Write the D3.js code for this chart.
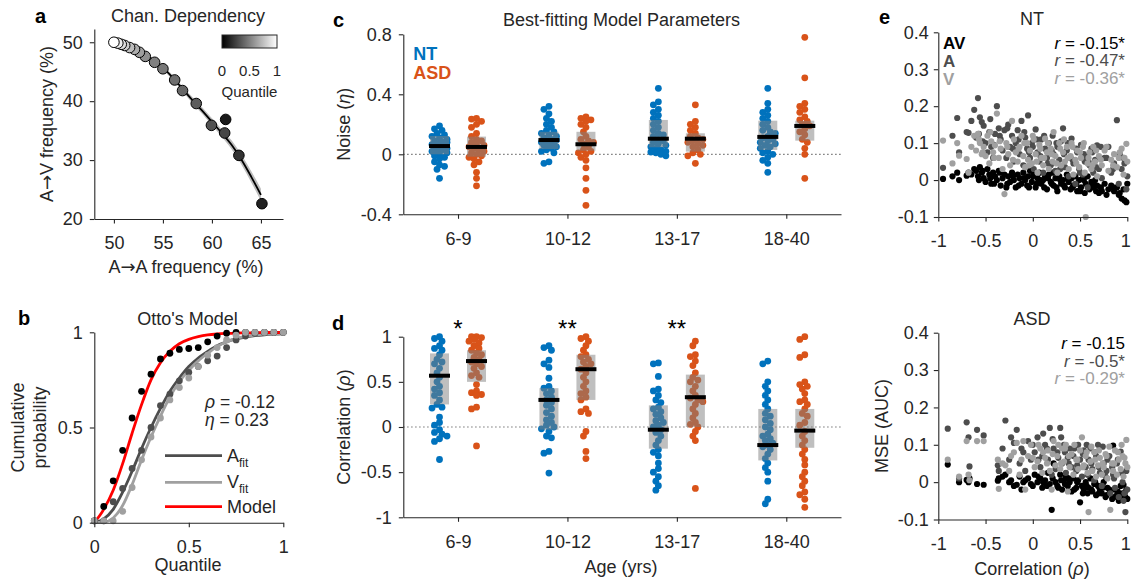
<!DOCTYPE html>
<html>
<head>
<meta charset="utf-8">
<script src="https://cdn.jsdelivr.net/npm/d3@7"></script>
<style>
  body { margin: 0; background: #fff; }
  svg { display: block; font-family: "Liberation Sans", Arial, Helvetica, sans-serif; }
</style>
</head>
<body>
<svg id="fig" width="1131" height="585"></svg>
<script>
// ---------- a: channel dependency ----------
const chanAA    = [50.0, 50.4, 50.75, 51.1, 51.6, 52.1, 52.6, 53.2, 54.15, 55.0, 56.2, 57.0, 58.4, 59.95, 61.4, 61.3, 62.75, 65.1];
const chanAV    = [50.0, 49.85, 49.65, 49.45, 49.1, 48.8, 48.3, 47.6, 46.6, 45.5, 43.6, 41.8, 39.6, 35.9, 36.9, 34.6, 30.8, 22.6];
const chanQuant = [1.0, 0.93, 0.87, 0.8, 0.74, 0.68, 0.62, 0.56, 0.5, 0.47, 0.43, 0.4, 0.36, 0.32, 0.1, 0.27, 0.2, 0.13];
const fitAA   = [50, 51, 52, 53, 54, 55, 56, 57, 58, 59, 60, 61, 62, 63, 64, 65];
const fitAV   = [50.0, 49.5, 48.9, 48.1, 47.0, 45.7, 44.0, 42.1, 40.2, 38.4, 36.5, 34.6, 32.6, 30.1, 27.2, 24.1];
const fitBand = [0.1, 0.15, 0.2, 0.25, 0.3, 0.35, 0.4, 0.45, 0.5, 0.55, 0.6, 0.65, 0.75, 0.85, 0.95, 1.05];

// ---------- b: Otto's model ----------
const quantiles = [0, 0.05, 0.1, 0.15, 0.2, 0.25, 0.3, 0.35, 0.4, 0.45, 0.5, 0.55, 0.6, 0.65, 0.7, 0.75, 0.8, 0.85, 0.9, 0.95, 1];
const cdfAV = [0.01, 0.085, 0.22, 0.38, 0.55, 0.69, 0.78, 0.86, 0.89, 0.91, 0.915, 0.92, 0.95, 0.98, 0.995, 1.0, 1.0, 1.0, 1.0, 1.0, 1.0];
const cdfA  = [0.01, 0.01, 0.11, 0.18, 0.285, 0.38, 0.5, 0.615, 0.675, 0.745, 0.79, 0.82, 0.85, 0.875, 0.92, 0.96, 0.98, 0.995, 1.0, 1.0, 1.0];
const cdfV  = [0.01, 0.01, 0.01, 0.06, 0.185, 0.33, 0.45, 0.55, 0.645, 0.71, 0.76, 0.82, 0.88, 0.92, 0.96, 0.985, 1.0, 1.0, 1.0, 1.0, 1.0];
const fitModel = [0, 0.07, 0.17, 0.31, 0.47, 0.62, 0.75, 0.84, 0.9, 0.94, 0.963, 0.977, 0.986, 0.991, 0.994, 0.996, 0.997, 0.998, 0.999, 0.999, 1.0];
const fitA     = [0, 0.02, 0.07, 0.16, 0.27, 0.39, 0.5, 0.6, 0.69, 0.76, 0.82, 0.865, 0.9, 0.93, 0.95, 0.965, 0.975, 0.982, 0.987, 0.99, 0.992];
const fitV     = [0, 0.003, 0.025, 0.09, 0.2, 0.33, 0.45, 0.56, 0.66, 0.74, 0.8, 0.85, 0.89, 0.925, 0.95, 0.967, 0.978, 0.985, 0.99, 0.993, 0.995];

// ---------- c / d: per-subject parameters by age group ----------
const ageGroups = ["6-9", "10-12", "13-17", "18-40"];
const noiseTicks = [-0.4, 0, 0.4, 0.8];
const corrTicks = [-1, -0.5, 0, 0.5, 1];
const noiseNT = [
  [0.19, 0.17, 0.16, 0.14, 0.13, 0.12, 0.11, 0.1, 0.09, 0.085, 0.08, 0.07, 0.065, 0.06, 0.05, 0.045, 0.04, 0.03, 0.025, 0.02, 0.01, 0.0, -0.01, -0.02, -0.03, -0.05, -0.07, -0.08, -0.1, -0.16],
  [0.32, 0.3, 0.27, 0.24, 0.22, 0.2, 0.18, 0.16, 0.15, 0.14, 0.13, 0.12, 0.11, 0.1, 0.095, 0.09, 0.08, 0.07, 0.065, 0.06, 0.05, 0.04, 0.03, 0.02, 0.01, -0.05, -0.06],
  [0.44, 0.35, 0.33, 0.3, 0.28, 0.26, 0.24, 0.22, 0.2, 0.18, 0.16, 0.14, 0.13, 0.12, 0.1, 0.09, 0.08, 0.07, 0.06, 0.05, 0.04, 0.03, 0.02, 0.015, 0.01, 0.0, -0.01],
  [0.44, 0.34, 0.3, 0.28, 0.26, 0.24, 0.22, 0.2, 0.18, 0.16, 0.15, 0.14, 0.12, 0.11, 0.1, 0.09, 0.08, 0.07, 0.06, 0.05, 0.04, 0.02, 0.01, 0.0, -0.02, -0.04, -0.06, -0.12]
];
const noiseASD = [
  [0.24, 0.235, 0.22, 0.2, 0.18, 0.14, 0.12, 0.1, 0.09, 0.08, 0.07, 0.06, 0.05, 0.04, 0.03, 0.02, 0.01, 0.0, -0.01, -0.02, -0.03, -0.05, -0.07, -0.12, -0.16, -0.21],
  [0.25, 0.24, 0.23, 0.22, 0.2, 0.18, 0.15, 0.12, 0.1, 0.09, 0.08, 0.07, 0.05, 0.03, 0.02, 0.01, 0.0, -0.02, -0.04, -0.09, -0.16, -0.24, -0.34],
  [0.33, 0.22, 0.2, 0.18, 0.16, 0.14, 0.12, 0.11, 0.1, 0.09, 0.08, 0.07, 0.06, 0.05, 0.03, 0.01, 0.0, -0.01, -0.06],
  [0.78, 0.51, 0.34, 0.32, 0.3, 0.28, 0.25, 0.23, 0.22, 0.2, 0.19, 0.17, 0.15, 0.13, 0.1, 0.08, 0.04, 0.0, -0.16]
];
const noiseMidNT  = [0.055, 0.095, 0.104, 0.116];
const noiseMidASD = [0.049, 0.067, 0.104, 0.189];
const noiseLoNT   = [0.0, 0.035, 0.047, 0.029];
const noiseHiNT   = [0.122, 0.15, 0.229, 0.224];
const noiseLoASD  = [-0.016, 0.024, 0.018, 0.091];
const noiseHiASD  = [0.118, 0.15, 0.14, 0.224];

const corrNT = [
  [1.0, 0.98, 0.95, 0.9, 0.87, 0.85, 0.8, 0.75, 0.72, 0.7, 0.65, 0.6, 0.55, 0.5, 0.45, 0.42, 0.38, 0.35, 0.3, 0.25, 0.22, 0.21, 0.11, 0.05, 0.02, -0.03, -0.06, -0.08, -0.1, -0.13, -0.16, -0.36],
  [0.9, 0.88, 0.85, 0.74, 0.7, 0.66, 0.54, 0.45, 0.43, 0.4, 0.37, 0.33, 0.3, 0.27, 0.24, 0.2, 0.16, 0.12, 0.08, 0.05, 0.02, 0.0, -0.02, -0.05, -0.1, -0.12, -0.27, -0.29, -0.51],
  [0.71, 0.7, 0.56, 0.42, 0.4, 0.35, 0.3, 0.27, 0.22, 0.2, 0.17, 0.14, 0.1, 0.07, 0.05, 0.02, 0.0, -0.03, -0.06, -0.1, -0.15, -0.2, -0.25, -0.28, -0.32, -0.4, -0.46, -0.5, -0.55, -0.6, -0.65, -0.7],
  [0.73, 0.7, 0.5, 0.45, 0.4, 0.35, 0.3, 0.25, 0.2, 0.15, 0.12, 0.08, 0.04, 0.0, -0.03, -0.08, -0.1, -0.13, -0.15, -0.18, -0.2, -0.22, -0.25, -0.3, -0.35, -0.4, -0.45, -0.5, -0.6, -0.8, -0.85]
];
const corrASD = [
  [1.0, 1.0, 0.99, 0.97, 0.95, 0.93, 0.9, 0.87, 0.85, 0.82, 0.8, 0.77, 0.75, 0.72, 0.7, 0.67, 0.65, 0.6, 0.57, 0.55, 0.47, 0.4, 0.38, 0.36, 0.35, 0.22, 0.2, -0.21],
  [1.0, 0.98, 0.95, 0.9, 0.85, 0.8, 0.78, 0.75, 0.72, 0.7, 0.67, 0.64, 0.6, 0.55, 0.5, 0.45, 0.4, 0.37, 0.33, 0.3, 0.2, 0.17, 0.15, -0.05, -0.1, -0.27, -0.35],
  [0.95, 0.9, 0.8, 0.78, 0.73, 0.68, 0.6, 0.55, 0.52, 0.5, 0.45, 0.4, 0.35, 0.32, 0.3, 0.28, 0.25, 0.2, 0.15, 0.1, 0.05, 0.03, 0.0, -0.05, -0.1, -0.15, -0.68],
  [1.0, 0.97, 0.8, 0.77, 0.5, 0.47, 0.45, 0.42, 0.37, 0.3, 0.28, 0.25, 0.2, 0.15, 0.12, 0.05, 0.02, -0.05, -0.1, -0.15, -0.2, -0.25, -0.3, -0.36, -0.42, -0.5, -0.55, -0.6, -0.65, -0.72, -0.75, -0.8, -0.89]
];
const corrMidNT  = [0.568, 0.3, -0.03, -0.2];
const corrMidASD = [0.73, 0.64, 0.33, -0.04];
const corrLoNT   = [0.25, -0.03, -0.24, -0.37];
const corrHiNT   = [0.815, 0.43, 0.24, 0.2];
const corrLoASD  = [0.5, 0.3, 0.0, -0.23];
const corrHiASD  = [0.85, 0.8, 0.58, 0.2];
const corrStars  = ["*", "**", "**", ""];

// ---------- e: model error vs correlation (one entry per subject) ----------
const ntRho = [-0.95, -0.85, -0.8, -0.78, -0.7, -0.68, -0.62, -0.6, -0.58, -0.56, -0.54, -0.52, -0.5, -0.48, -0.46, -0.44, -0.42, -0.4, -0.38, -0.36, -0.34, -0.32, -0.3, -0.28, -0.26, -0.24, -0.22, -0.2, -0.18, -0.16, -0.14, -0.12, -0.1, -0.08, -0.06, -0.05, -0.03, -0.01, 0.01, 0.03, 0.05, 0.07, 0.09, 0.11, 0.13, 0.15, 0.17, 0.19, 0.21, 0.22, 0.24, 0.26, 0.28, 0.3, 0.32, 0.34, 0.36, 0.38, 0.4, 0.41, 0.43, 0.45, 0.47, 0.49, 0.51, 0.53, 0.55, 0.56, 0.58, 0.6, 0.62, 0.64, 0.66, 0.68, 0.7, 0.73, 0.76, 0.8, 0.83, 0.86, 0.89, 0.91, 0.94, 0.96, 0.99, 1.0,
  -0.65, -0.57, -0.53, -0.45, -0.41, -0.35, -0.27, -0.21, -0.15, -0.09, -0.04, 0.0, 0.04, 0.08, 0.12, 0.16, 0.2, 0.25, 0.29, 0.33, 0.37, 0.42, 0.46, 0.5, 0.54, 0.59, 0.63, 0.67, 0.72, 0.78, 0.85, 0.92, 0.97];
const ntMseAV = [0.003, 0.01, 0.02, 0.0, 0.012, 0.02, 0.03, 0.025, 0.01, 0.035, 0.02, 0.005, -0.005, 0.03, 0.015, -0.01, 0.02, 0.01, 0.0, 0.025, -0.015, 0.005, 0.015, -0.02, 0.01, -0.005, 0.02, 0.0, -0.02, 0.015, 0.005, -0.01, 0.02, 0.0, -0.015, 0.01, 0.025, -0.005, 0.015, -0.02, 0.005, 0.02, -0.01, 0.0, 0.01, -0.025, 0.015, -0.005, 0.02, -0.015, 0.005, -0.03, 0.01, -0.01, 0.0, -0.02, 0.015, -0.005, -0.025, 0.005, -0.015, 0.01, -0.03, 0.0, -0.02, 0.005, -0.035, -0.01, 0.01, -0.025, -0.005, -0.02, 0.0, -0.015, -0.035, -0.03, -0.01, -0.025, -0.015, -0.03, -0.02, -0.04, -0.05, -0.025, -0.06, -0.01,
  0.015, 0.0, 0.025, 0.005, -0.01, 0.02, -0.01, 0.01, -0.015, 0.005, -0.02, 0.01, -0.01, 0.0, -0.02, 0.005, -0.01, -0.02, 0.0, -0.015, 0.005, -0.02, -0.01, -0.03, 0.0, -0.02, -0.01, -0.03, -0.02, -0.04, -0.02, -0.035, -0.055];
const ntMseA  = [0.033, 0.12, 0.168, 0.075, 0.13, 0.128, 0.19, 0.115, 0.222, 0.17, 0.157, 0.147, 0.1, 0.075, 0.13, 0.09, 0.06, 0.125, 0.2, 0.14, 0.11, 0.08, 0.135, 0.06, 0.15, 0.09, 0.12, 0.05, 0.1, 0.135, 0.07, 0.16, 0.04, 0.115, 0.085, 0.175, 0.06, 0.1, 0.03, 0.137, 0.075, 0.05, 0.11, 0.02, 0.085, 0.06, 0.1, 0.04, 0.12, 0.07, 0.025, 0.09, 0.055, 0.105, 0.14, 0.035, 0.08, 0.01, 0.06, 0.112, 0.045, -0.01, 0.075, 0.03, 0.095, 0.015, 0.05, 0.065, -0.02, 0.04, 0.085, 0.02, 0.055, 0.094, 0.03, 0.005, 0.06, 0.09, 0.02, 0.045, 0.162, -0.01, 0.03, 0.06, -0.025, 0.01,
  0.16, 0.125, 0.105, 0.165, 0.095, 0.12, 0.14, 0.085, 0.11, 0.13, 0.075, 0.09, 0.11, 0.065, 0.12, 0.045, 0.08, 0.1, 0.03, 0.07, 0.1, 0.055, 0.085, 0.02, 0.07, 0.05, 0.075, 0.035, 0.09, 0.06, 0.03, 0.07, 0.045];
const ntMseV  = [0.107, 0.045, 0.1, 0.066, 0.057, 0.02, 0.12, 0.08, 0.125, 0.1, 0.07, 0.09, 0.065, 0.12, 0.045, 0.105, 0.075, 0.094, 0.18, 0.06, 0.085, 0.03, -0.038, 0.1, 0.07, 0.04, 0.16, 0.11, 0.075, 0.05, 0.09, 0.12, 0.065, 0.035, 0.1, 0.055, 0.08, 0.045, 0.11, 0.07, 0.02, 0.095, 0.06, 0.04, 0.112, 0.075, 0.03, 0.085, 0.05, 0.13, 0.065, 0.02, 0.1, 0.04, 0.075, 0.05, 0.09, 0.03, 0.065, 0.1, 0.015, 0.055, 0.08, 0.035, 0.06, 0.09, 0.02, -0.1, 0.045, 0.075, 0.03, 0.09, 0.05, 0.01, 0.065, 0.04, 0.08, 0.025, 0.055, 0.07, 0.035, 0.06, 0.085, 0.015, 0.098, 0.05,
  0.09, 0.11, 0.075, 0.13, 0.06, 0.105, 0.09, 0.055, 0.085, 0.1, 0.04, 0.12, 0.05, 0.085, 0.06, 0.1, 0.07, 0.045, 0.085, 0.11, 0.06, 0.09, 0.045, 0.075, 0.1, 0.06, 0.04, 0.08, 0.055, 0.09, 0.04, 0.075, 0.06];

const asdRho = [-0.9, -0.78, -0.7, -0.68, -0.67, -0.59, -0.52, -0.37, -0.36, -0.29, -0.25, -0.2, -0.17, -0.14, -0.12, -0.08, -0.05, -0.02, 0.02, 0.05, 0.08, 0.1, 0.13, 0.16, 0.18, 0.2, 0.22, 0.24, 0.26, 0.29, 0.31, 0.33, 0.35, 0.37, 0.39, 0.41, 0.43, 0.46, 0.48, 0.5, 0.52, 0.54, 0.56, 0.58, 0.59, 0.61, 0.63, 0.65, 0.67, 0.69, 0.71, 0.73, 0.75, 0.77, 0.79, 0.82, 0.84, 0.85, 0.87, 0.89, 0.91, 0.93, 0.95, 0.96, 0.98, 0.99, 1.0,
  -0.32, -0.23, -0.1, 0.0, 0.06, 0.11, 0.15, 0.21, 0.27, 0.3, 0.34, 0.38, 0.44, 0.47, 0.53, 0.57, 0.62, 0.66, 0.7, 0.74, 0.78, 0.81, 0.86, 0.9, 0.94, 0.97];
const asdMseAV = [0.047, 0.0, 0.006, 0.0, 0.01, -0.005, -0.007, 0.004, 0.01, 0.02, 0.0, -0.01, -0.007, 0.015, -0.02, 0.005, 0.01, -0.005, 0.02, 0.0, 0.01, -0.015, 0.005, 0.025, -0.005, -0.074, 0.05, 0.0, -0.01, 0.02, -0.02, 0.005, 0.015, -0.01, 0.0, -0.025, 0.01, -0.015, 0.005, -0.054, -0.01, -0.02, 0.0, -0.03, -0.015, 0.01, -0.025, -0.005, -0.035, -0.01, -0.02, -0.03, 0.0, -0.04, -0.015, -0.025, -0.045, 0.098, -0.02, -0.035, -0.05, -0.01, -0.03, -0.007, -0.04, -0.02, -0.045,
  0.015, 0.005, 0.0, -0.01, 0.015, 0.0, -0.01, 0.01, -0.015, 0.005, -0.005, 0.01, -0.02, 0.0, -0.03, -0.01, -0.02, 0.0, -0.03, -0.015, -0.035, -0.02, -0.04, -0.025, -0.045, -0.03];
const asdMseA  = [0.143, 0.01, 0.16, 0.12, 0.042, 0.14, 0.125, 0.045, 0.03, 0.165, 0.06, 0.105, 0.14, 0.05, 0.09, 0.03, 0.11, 0.06, 0.08, 0.12, 0.04, 0.07, 0.1, 0.06, 0.145, 0.02, 0.09, 0.035, 0.08, 0.145, 0.05, 0.1, 0.025, 0.065, 0.09, 0.04, 0.07, 0.03, 0.1, 0.06, 0.015, 0.085, 0.04, 0.02, 0.06, 0.09, 0.035, 0.005, 0.07, 0.1, 0.025, -0.01, 0.05, 0.015, 0.06, -0.03, 0.04, 0.02, -0.015, 0.05, -0.04, 0.082, 0.0, -0.05, -0.08, 0.03, -0.02,
  0.09, 0.12, 0.08, 0.1, 0.06, 0.13, 0.09, 0.115, 0.065, 0.12, 0.08, 0.05, 0.09, 0.045, 0.075, 0.1, 0.05, 0.08, 0.04, 0.095, 0.03, 0.07, 0.01, 0.06, 0.025, -0.03];
const asdMseV  = [0.06, 0.015, 0.11, 0.02, 0.005, 0.11, 0.11, 0.06, -0.018, 0.045, 0.03, 0.08, 0.105, 0.02, 0.06, -0.02, 0.07, 0.1, 0.04, 0.055, 0.09, 0.025, 0.065, 0.085, 0.03, -0.02, 0.11, 0.045, 0.07, 0.035, 0.09, 0.055, 0.1, -0.025, 0.04, 0.075, 0.02, 0.06, 0.035, 0.085, 0.12, 0.045, 0.07, 0.025, -0.08, 0.055, 0.03, 0.08, 0.015, 0.045, 0.065, 0.02, 0.04, 0.075, 0.01, -0.074, 0.05, 0.03, 0.085, 0.02, 0.06, 0.035, 0.07, 0.015, 0.05, 0.113, 0.04,
  0.05, 0.07, 0.11, 0.065, 0.1, 0.08, 0.05, 0.075, 0.1, 0.05, 0.09, 0.07, 0.1, 0.06, 0.04, 0.08, 0.095, 0.06, 0.085, 0.05, 0.07, 0.095, 0.05, 0.08, 0.1, 0.065];
const ntStats  = ["-0.15*", "-0.47*", "-0.36*"];
const asdStats = ["-0.15", "-0.5*", "-0.29*"];

// ---------- shared styling ----------
const INK = "#262626";
const FS = 18;
const BLUE = "#0072BD", ORANGE = "#D95319";
const GREY_A = "#4d4d4d", GREY_V = "#a0a0a0";
const fmt = d => String(d);

const svg = d3.select("#fig");
svg.append("rect").attr("width", 1131).attr("height", 585).attr("fill", "#fff");

// text helper: segments are strings or [string, "italic"|"sub"|"arrow"]
function text(x, y, segs, o = {}) {
  const t = svg.append("text")
    .attr("x", x).attr("y", y)
    .attr("font-size", o.size || FS)
    .attr("font-weight", o.weight || "normal")
    .attr("fill", o.fill || INK)
    .attr("text-anchor", o.anchor || "middle");
  if (o.rotate) t.attr("transform", `rotate(-90,${x},${y})`);
  (Array.isArray(segs) ? segs : [segs]).forEach(s => {
    if (typeof s === "string") t.append("tspan").text(s);
    else if (s[1] === "italic") t.append("tspan").attr("font-style", "italic").text(s[0]);
    else if (s[1] === "sub") t.append("tspan").attr("font-size", 12).attr("dy", 5).text(s[0]);
    else if (s[1] === "arrow") t.append("tspan").attr("font-family", "DejaVu Sans").text(s[0]);
  });
  return t;
}

function axes(x, y, xTicks, yTicks, xFmt, yPad) {
  const gx = svg.append("g")
    .attr("transform", `translate(0,${y.range()[0]})`)
    .call(d3.axisBottom(x).tickValues(xTicks).tickFormat(xFmt || fmt)
      .tickSize(4.5).tickSizeOuter(0).tickPadding(13));
  const gy = svg.append("g")
    .attr("transform", `translate(${x.range()[0]},0)`)
    .call(d3.axisLeft(y).tickValues(yTicks).tickFormat(fmt)
      .tickSize(4.5).tickSizeOuter(0).tickPadding(yPad == null ? 7 : yPad));
  [gx, gy].forEach(g => {
    g.attr("font-family", null).attr("font-size", FS);
    g.select(".domain").attr("stroke", INK).attr("stroke-width", 1.1);
    g.selectAll(".tick line").attr("stroke", INK).attr("stroke-width", 1.1);
    g.selectAll(".tick text").attr("fill", INK);
  });
  return gx;
}

function panelLetter(x, y, s) {
  text(x, y, s, { size: 20, weight: "bold", anchor: "start", fill: "#000" });
}

// ================= a =================
{
  const x = d3.scaleLinear([48, 67.25], [94.3, 283]);
  const y = d3.scaleLinear([20, 52.25], [219, 29]);
  const fit = fitAA.map((v, i) => ({ x: v, y: fitAV[i], b: fitBand[i] }));
  svg.append("path").datum(fit)
    .attr("d", d3.area().x(d => x(d.x)).y0(d => y(d.y - d.b)).y1(d => y(d.y + d.b)).curve(d3.curveMonotoneX))
    .attr("fill", "#bdbdbd");
  svg.append("path").datum(fit)
    .attr("d", d3.line().x(d => x(d.x)).y(d => y(d.y)).curve(d3.curveMonotoneX))
    .attr("fill", "none").attr("stroke", "#000").attr("stroke-width", 1.8);
  const pts = chanAA.map((v, i) => ({ x: v, y: chanAV[i], q: chanQuant[i] }))
    .sort((a, b) => a.q - b.q);
  const grey = d3.scaleLinear([0, 1], ["#000000", "#ffffff"]);
  svg.append("g").selectAll("circle").data(pts).join("circle")
    .attr("cx", d => x(d.x)).attr("cy", d => y(d.y)).attr("r", 5.3)
    .attr("fill", d => grey(d.q)).attr("stroke", "#000").attr("stroke-width", 1);
  axes(x, y, [50, 55, 60, 65], [20, 30, 40, 50]);

  // quantile colour bar
  const grad = svg.append("defs").append("linearGradient").attr("id", "qgrad");
  grad.append("stop").attr("offset", "0%").attr("stop-color", "#000");
  grad.append("stop").attr("offset", "100%").attr("stop-color", "#fff");
  const cb = d3.scaleLinear([0, 1], [222, 277]);
  svg.append("rect").attr("x", cb(0)).attr("y", 35).attr("width", cb(1) - cb(0)).attr("height", 13)
    .attr("fill", "url(#qgrad)").attr("stroke", INK).attr("stroke-width", 1);
  [0, 0.5, 1].forEach(v => text(cb(v), 75.5, fmt(v), { size: 15 }));
  text(cb(0.5), 97, "Quantile", { size: 15 });

  text(188, 21.5, "Chan. Dependency");
  text(186, 273, ["A", ["\u2192", "arrow"], "A frequency (%)"]);
  text(53, 124, ["A", ["\u2192", "arrow"], "V frequency (%)"], { rotate: true });
  panelLetter(35, 23.3, "a");
}

// ================= b =================
{
  const x = d3.scaleLinear([0, 1], [94.3, 283.3]);
  const y = d3.scaleLinear([0, 1], [522.7, 332.3]);
  const line = arr => d3.line().x((d, i) => x(quantiles[i])).y(d => y(d)).curve(d3.curveMonotoneX)(arr);
  [[fitA, GREY_A], [fitV, GREY_V], [fitModel, "#ff0000"]].forEach(([arr, c]) =>
    svg.append("path").attr("d", line(arr)).attr("fill", "none").attr("stroke", c).attr("stroke-width", 2.8));
  [[cdfAV, "#000"], [cdfA, GREY_A], [cdfV, GREY_V]].forEach(([arr, c]) =>
    svg.append("g").selectAll("circle").data(arr).join("circle")
      .attr("cx", (d, i) => x(quantiles[i])).attr("cy", d => y(d)).attr("r", 3.4).attr("fill", c));
  axes(x, y, [0, 0.5, 1], [0, 0.5, 1]);

  text(205, 407.5, [["\u03c1", "italic"], " = -0.12"], { anchor: "start", size: 17.5 });
  text(205, 425.5, [["\u03b7", "italic"], " = 0.23"], { anchor: "start", size: 17.5 });
  const legend = [[GREY_A, 455.7, ["A", ["fit", "sub"]], 461.7],
                  [GREY_V, 482.3, ["V", ["fit", "sub"]], 488.3],
                  ["#ff0000", 506.7, ["Model"], 513.3]];
  legend.forEach(([c, ly, lab, by]) => {
    svg.append("line").attr("x1", 165).attr("x2", 222).attr("y1", ly).attr("y2", ly)
      .attr("stroke", c).attr("stroke-width", 2.8);
    text(227, by, lab, { anchor: "start" });
  });
  text(187.5, 325, "Otto's Model");
  text(188, 571, "Quantile");
  text(24, 427.5, "Cumulative", { rotate: true });
  text(46, 427.5, "probability", { rotate: true });
  panelLetter(18, 325, "b");
}

// ================= c / d helpers =================
const xCat = d3.scaleLinear([0.5, 4.5], [403.3, 841]);
const GROUP_OFF = 18.5;

// spread dots of one group sideways so that they overlap less
function swarm(vals, y, r) {
  const pts = vals.map(v => ({ v, py: y(v) })).sort((a, b) => a.py - b.py);
  const offs = [0, -2.5, 2.5, -5, 5, -7.5, 7.5];
  const placed = [];
  pts.forEach(p => {
    let best = 0, bestD = -1;
    for (const o of offs) {
      let md = Infinity;
      placed.forEach(q => { md = Math.min(md, Math.hypot(q.dx - o, q.py - p.py)); });
      if (md >= r * 1.35) { best = o; bestD = md; break; }
      if (md > bestD) { bestD = md; best = o; }
    }
    p.dx = best;
    placed.push(p);
  });
  return pts;
}

function groupPanel(y, yTicks, nt, asd, midNT, midASD, loNT, hiNT, loASD, hiASD) {
  svg.append("line").attr("x1", xCat.range()[0]).attr("x2", xCat.range()[1])
    .attr("y1", y(0)).attr("y2", y(0))
    .attr("stroke", "#555").attr("stroke-width", 1.2).attr("stroke-dasharray", "1.2,2.8");
  ageGroups.forEach((g, i) => {
    [[nt[i], BLUE, -GROUP_OFF, midNT[i], loNT[i], hiNT[i]],
     [asd[i], ORANGE, GROUP_OFF, midASD[i], loASD[i], hiASD[i]]].forEach(([vals, c, off, mid, lo, hi]) => {
      const cx = xCat(i + 1) + off;
      svg.append("g").selectAll("circle").data(swarm(vals, y, 3.4)).join("circle")
        .attr("cx", d => cx + d.dx).attr("cy", d => d.py).attr("r", 3.4).attr("fill", c);
      svg.append("rect").attr("x", cx - 9.5).attr("width", 19)
        .attr("y", y(hi)).attr("height", y(lo) - y(hi))
        .attr("fill", "#808080").attr("fill-opacity", 0.5);
      svg.append("line").attr("x1", cx - 10.5).attr("x2", cx + 10.5)
        .attr("y1", y(mid)).attr("y2", y(mid)).attr("stroke", "#000").attr("stroke-width", 4);
    });
  });
  axes(xCat, y, [1, 2, 3, 4], yTicks, i => ageGroups[i - 1]);
}

// ================= c =================
{
  const y = d3.scaleLinear([-0.4, 0.8], [214.3, 34.3]);
  groupPanel(y, noiseTicks, noiseNT, noiseASD, noiseMidNT, noiseMidASD, noiseLoNT, noiseHiNT, noiseLoASD, noiseHiASD);
  text(621.5, 26, "Best-fitting Model Parameters");
  text(413.3, 59.5, "NT", { anchor: "start", weight: "bold", fill: BLUE });
  text(413.3, 78.5, "ASD", { anchor: "start", weight: "bold", fill: ORANGE });
  text(350, 124.3, ["Noise (", ["\u03b7", "italic"], ")"], { rotate: true });
  panelLetter(333, 26.7, "c");
}

// ================= d =================
{
  const y = d3.scaleLinear([-1, 1], [517.3, 336.7]);
  groupPanel(y, corrTicks, corrNT, corrASD, corrMidNT, corrMidASD, corrLoNT, corrHiNT, corrLoASD, corrHiASD);
  corrStars.forEach((s, i) => {
    if (s) text(xCat(i + 1), 337, s, { size: 24, fill: "#000" });
  });
  text(621, 573, "Age (yrs)");
  text(350, 427, ["Correlation (", ["\u03c1", "italic"], ")"], { rotate: true });
  panelLetter(332, 330, "d");
}

// ================= e =================
function scatterPanel(y, rho, av, a, v, stats, title) {
  const x = d3.scaleLinear([-1, 1], [938.3, 1127.3]);
  [[av, "#000"], [a, GREY_A], [v, GREY_V]].forEach(([arr, c]) =>
    svg.append("g").selectAll("circle").data(arr).join("circle")
      .attr("cx", (d, i) => x(rho[i])).attr("cy", d => y(d)).attr("r", 3.1).attr("fill", c));
  const gx = axes(x, y, [-1, -0.5, 0, 0.5, 1], [-0.1, 0, 0.1, 0.2, 0.3, 0.4], null, 5);
  // keep the last tick label inside the figure edge
  gx.selectAll(".tick text").filter(d => d === 1).attr("dx", -2);
  const top = y.range()[1];
  text(1032, top - 7.5, title);
  const cols = ["#000", GREY_A, GREY_V];
  stats.forEach((s, i) => text(1125, top + 16.5 + i * 17.5, [["r", "italic"], " = " + s], { anchor: "end", size: 17, fill: cols[i] }));
  return top;
}
{
  const y = d3.scaleLinear([-0.1, 0.4], [217, 32.3]);
  const top = scatterPanel(y, ntRho, ntMseAV, ntMseA, ntMseV, ntStats, "NT");
  ["AV", "A", "V"].forEach((s, i) =>
    text(943, top + 16.5 + i * 18.3, s, { anchor: "start", weight: "bold", size: 17, fill: ["#000", GREY_A, GREY_V][i] }));
  panelLetter(879, 24, "e");
}
{
  const y = d3.scaleLinear([-0.1, 0.4], [519.5, 332.7]);
  scatterPanel(y, asdRho, asdMseAV, asdMseA, asdMseV, asdStats, "ASD");
  text(1032, 575, ["Correlation (", ["\u03c1", "italic"], ")"]);
  text(888, 426, "MSE (AUC)", { rotate: true });
}
</script>
</body>
</html>
